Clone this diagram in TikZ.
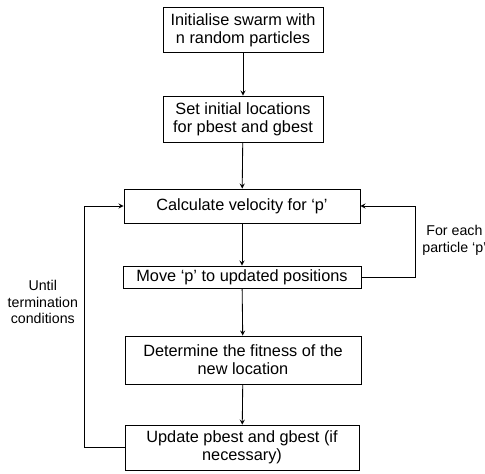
\documentclass[tikz,border=0pt]{standalone}
\usepackage{fontspec}
\setmainfont{Liberation Sans}
\tikzset{>=stealth}

\begin{document}
\begin{tikzpicture}[stepbox/.style={draw, line width=0.6pt, align=center, inner sep=1pt, font=\fontsize{11.6}{13}\selectfont},
    note/.style={align=center, font=\fontsize{10.1}{11.8}\selectfont}]
    \useasboundingbox (0,0) rectangle (12.125,-11.825);
    \node[stepbox, minimum width=4cm, minimum height=1.125cm] (init) at (6.075,-0.76) {Initialise swarm with\\n random particles};
    \node[stepbox, minimum width=4cm, minimum height=1.15cm] (setloc) at (6.075,-2.975) {Set initial locations\\for pbest and gbest};
    \node[stepbox, minimum width=5.9cm, minimum height=0.85cm] (calc) at (6.05,-5.15) {Calculate velocity for ‘p’};
    \node[stepbox, minimum width=5.95cm, minimum height=0.55cm] (move) at (6.05,-6.925) {Move ‘p’ to updated positions};
    \node[stepbox, minimum width=5.9cm, minimum height=1.2cm] (fit) at (6.075,-9.0) {Determine the fitness of the\\new location};
    \node[stepbox, minimum width=5.85cm, minimum height=1.125cm] (update) at (6.05,-11.19) {Update pbest and gbest (if\\necessary)};
    \draw[->, line width=0.6pt] (init) -- (setloc);
    \draw[->, line width=0.6pt] (setloc) -- (calc);
    \draw[->, line width=0.6pt] (calc) -- (move);
    \draw[->, line width=0.6pt] (move) -- (fit);
    \draw[->, line width=0.6pt] (fit) -- (update);
    \draw[->, line width=0.6pt] (move.east) -- ++(1.35,0) |- (calc.east);
    \draw[->, line width=0.6pt] (update.west) -- ++(-1.0,0) |- (calc.west);
    \node[note] (each) at (11.36,-6.01) {For each\\particle ‘p’};
    \node[note] (until) at (1.07,-7.55) {Until\\termination\\conditions};
\end{tikzpicture}
\end{document}
